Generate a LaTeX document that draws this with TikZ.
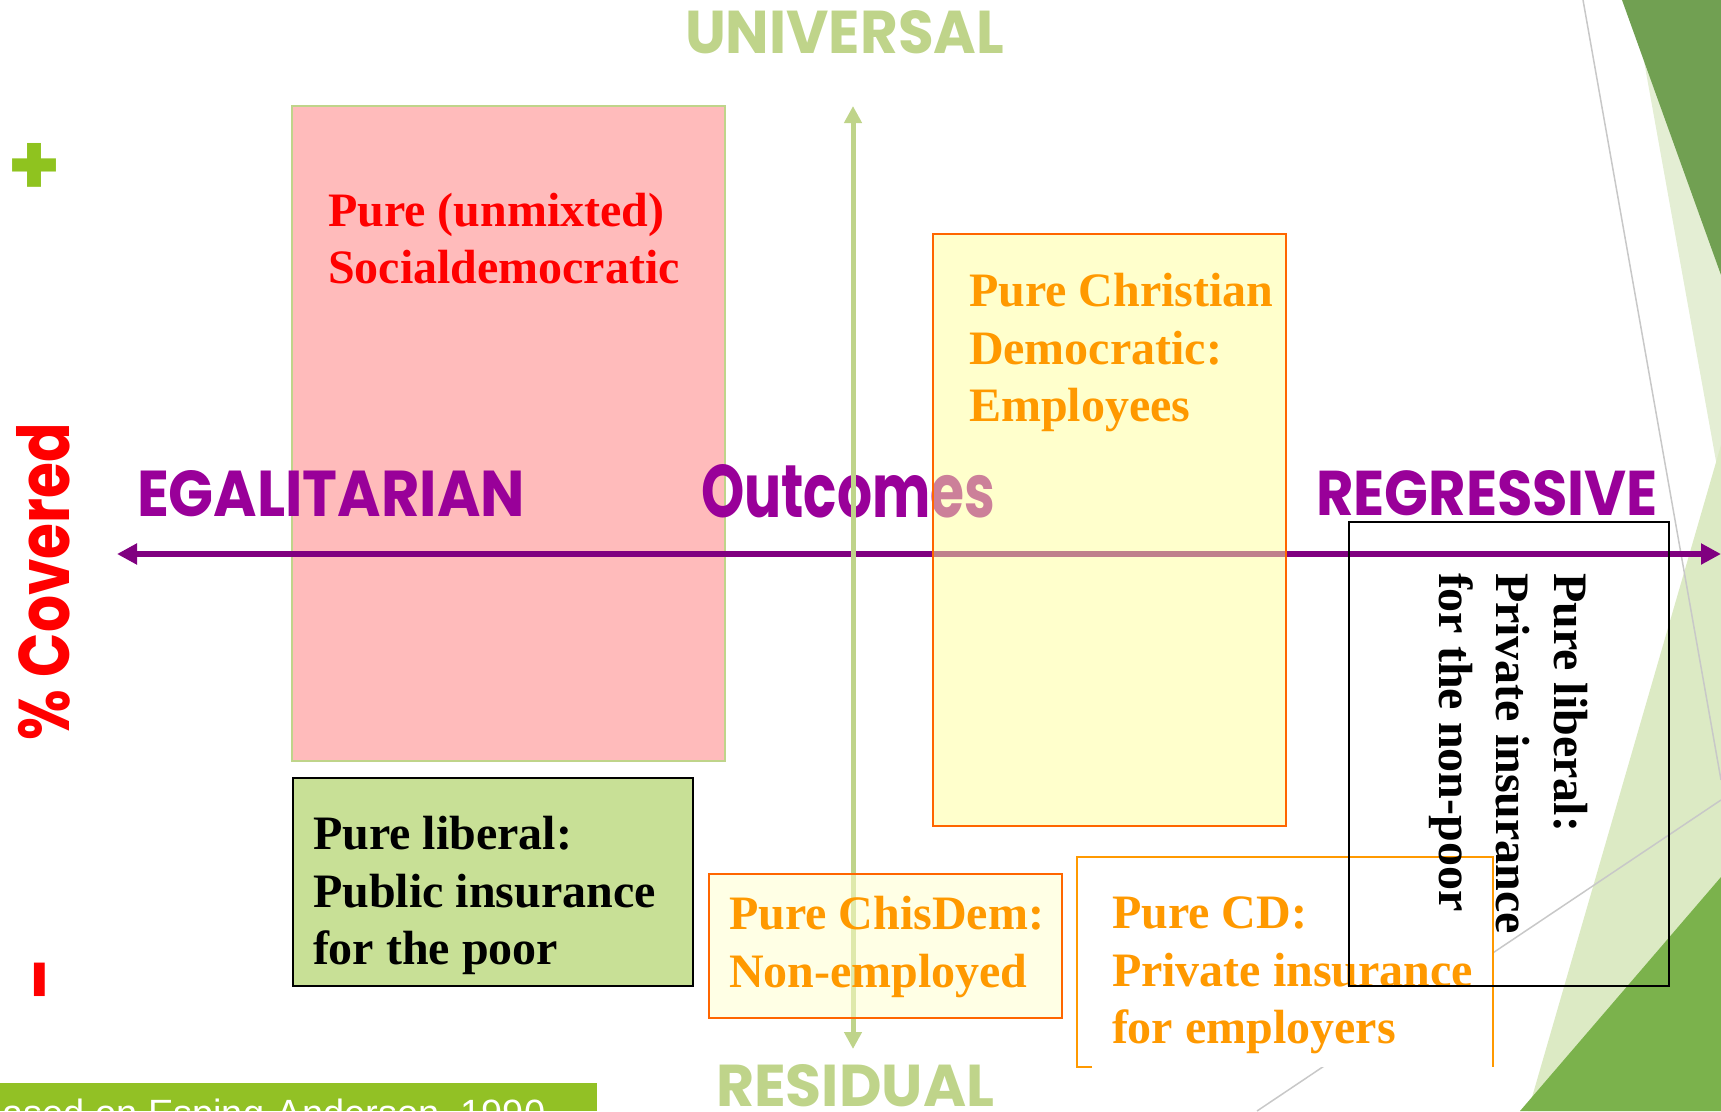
\documentclass[tikz,border=0pt]{standalone}
\usepackage{graphicx}
\usepackage{fontspec}
\setmainfont{Liberation Serif}
\newfontfamily\comicfont{Poppins}
\newfontfamily\bannerfont{Liberation Sans}
\usetikzlibrary{arrows.meta}
\pgfdeclarelayer{bg}
\pgfsetlayers{bg,main}

\definecolor{axispurple}{HTML}{800080}
\definecolor{labelpurple}{HTML}{990099}
\definecolor{palegreen}{HTML}{BFD48A}
\definecolor{sdpink}{HTML}{FFBBBB}
\definecolor{sdred}{HTML}{FF0000}
\definecolor{libgreen}{HTML}{C8E096}
\definecolor{cdorange}{HTML}{FF9900}
\definecolor{cdborder}{HTML}{FF6600}
\definecolor{cdyellow}{HTML}{FFFF99}
\definecolor{cdpale}{HTML}{FFFFCC}
\definecolor{plusgreen}{HTML}{8FC31F}
\definecolor{banner}{HTML}{92C125}
\definecolor{facetdark}{HTML}{71A052}
\definecolor{facetlight}{HTML}{E4EED4}
\definecolor{facetpale}{HTML}{DCEAC4}
\definecolor{facetmid}{HTML}{7BB24C}
\definecolor{facetline}{HTML}{C8C8C8}

\newcommand{\boxfont}{\fontsize{48}{57.5}\selectfont\bfseries}
\newcommand{\fitlabel}[3]{\resizebox{#1pt}{#2pt}{\comicfont\bfseries #3}}

\tikzset{
    every node/.style={inner sep=0mm, outer sep=0mm}
}
\tikzset{
    panel/.style={draw, anchor=north west, line width=2.5pt},
    boxtext/.style={anchor=north west, align=left, font=\boxfont},
    axislabel/.style={anchor=north west, text=labelpurple}
}

\begin{document}
\begin{tikzpicture}[x=1pt, y=-1pt]
  \useasboundingbox (0,0) rectangle (1721,1111);

  \begin{pgfonlayer}{bg}
	  \fill[facetlight] (1633,0) -- (1721,0) -- (1721,489) -- cycle;
	  \fill[facetdark] (1622,0) -- (1721,0) -- (1721,275) -- cycle;
	  \fill[facetpale] (1528,1111) -- (1721,445) -- (1721,1111) -- cycle;
	  \fill[facetmid] (1520,1111) -- (1721,877) -- (1721,1111) -- cycle;
	  \draw[facetline, line width=1.5pt] (1583,0) -- (1721,780);
	  \draw[facetline, line width=1.5pt] (1257,1111) -- (1721,800);
  \end{pgfonlayer}

  \node[panel, draw=palegreen, fill=sdpink, minimum width=433pt, minimum height=655pt] (sdpanel) at (292,106) {};
  \node[panel, draw=black, fill=libgreen, minimum width=400pt, minimum height=208pt] (lppanel) at (293,778) {};
  \node[boxtext, text=sdred] (sdtext) at (328,193) {Pure (unmixted)\\Socialdemocratic};
  \node[boxtext] (lptext) at (313,816.5) {Pure liberal:\\Public insurance\\for the poor};

  % the two axes
  \coordinate (egal) at (117,554);
  \coordinate (regr) at (1721,554);
  \coordinate (univ) at (853,106);
  \coordinate (resid) at (853,1049);

  \draw[axispurple, line width=5.5pt, {Triangle[length=20pt, width=20pt]}-{Triangle[length=20pt, width=20pt]}] (egal) -- (regr);
  \node[axislabel] (egallabel) at (137,470) {\fitlabel{388}{46}{EGALITARIAN}};
  \node[axislabel] (outcomes) at (701,464) {\fitlabel{294}{53}{Outcomes}};
  \node[axislabel] (regrlabel) at (1316,470) {\fitlabel{342}{45}{REGRESSIVE}};

  \draw[palegreen, line width=5pt, {Triangle[length=17pt, width=17pt]}-{Triangle[length=17pt, width=17pt]}] (univ) -- (resid);
  \node[anchor=north west, text=palegreen] (univlabel) at (685,10) {\fitlabel{319}{43}{UNIVERSAL}};
  \node[anchor=north west, text=palegreen] (residlabel) at (716,1064) {\fitlabel{278}{42}{RESIDUAL}};

  % christian democratic boxes
  \node[panel, draw=cdborder, fill=cdyellow, fill opacity=0.5, minimum width=353pt, minimum height=592pt] (cdpanel) at (933,234) {};
  \node[boxtext, text=cdorange] (cdtext) at (969,273.5) {Pure Christian\\Democratic:\\Employees};

  \node[panel, draw=cdborder, fill=cdpale, fill opacity=0.5, minimum width=353pt, minimum height=144pt] (nepanel) at (709,874) {};
  \node[boxtext, text=cdorange] (netext) at (729,896.5) {Pure ChisDem:\\Non-employed};

  \node[anchor=north west, fill=white, minimum width=416pt, minimum height=210pt] (privpanel) at (1077,857) {};
  \draw[cdorange, line width=1.5pt] ([xshift=15pt]privpanel.south west) -- (privpanel.south west)
    -- (privpanel.north west) -- (privpanel.north east) -- (privpanel.south east);
  \node[boxtext, text=cdorange] (privtext) at (1112,897) {Pure CD:\\Private insurance\\for employers};

  % liberal, turned
  \node[panel, draw=black, line width=2pt, minimum width=320pt, minimum height=464pt] (nppanel) at (1349,522) {};
  \node[boxtext, rotate=-90] (nptext) at (1587.5,573) {Pure liberal:\\Private insurance\\for the non-poor};

  % coverage scale
  \node[rotate=90, text=sdred] (covered) at (43.5,581.5) {\fitlabel{317}{53}{\% Covered}};
  \node[text=plusgreen, font=\comicfont\bfseries\fontsize{86}{86}\selectfont] (plus) at (35,169) {+};
  \node[text=sdred, rotate=90, font=\comicfont\bfseries\fontsize{76}{76}\selectfont] (minus) at (50,978) {-};

  \fill[banner] (0,1083) rectangle (597,1111);
  \node[anchor=base west, text=white, font=\bannerfont\fontsize{38}{40}\selectfont] (source) at (-23,1126) {Based on Esping-Andersen, 1990};
\end{tikzpicture}
\end{document}
